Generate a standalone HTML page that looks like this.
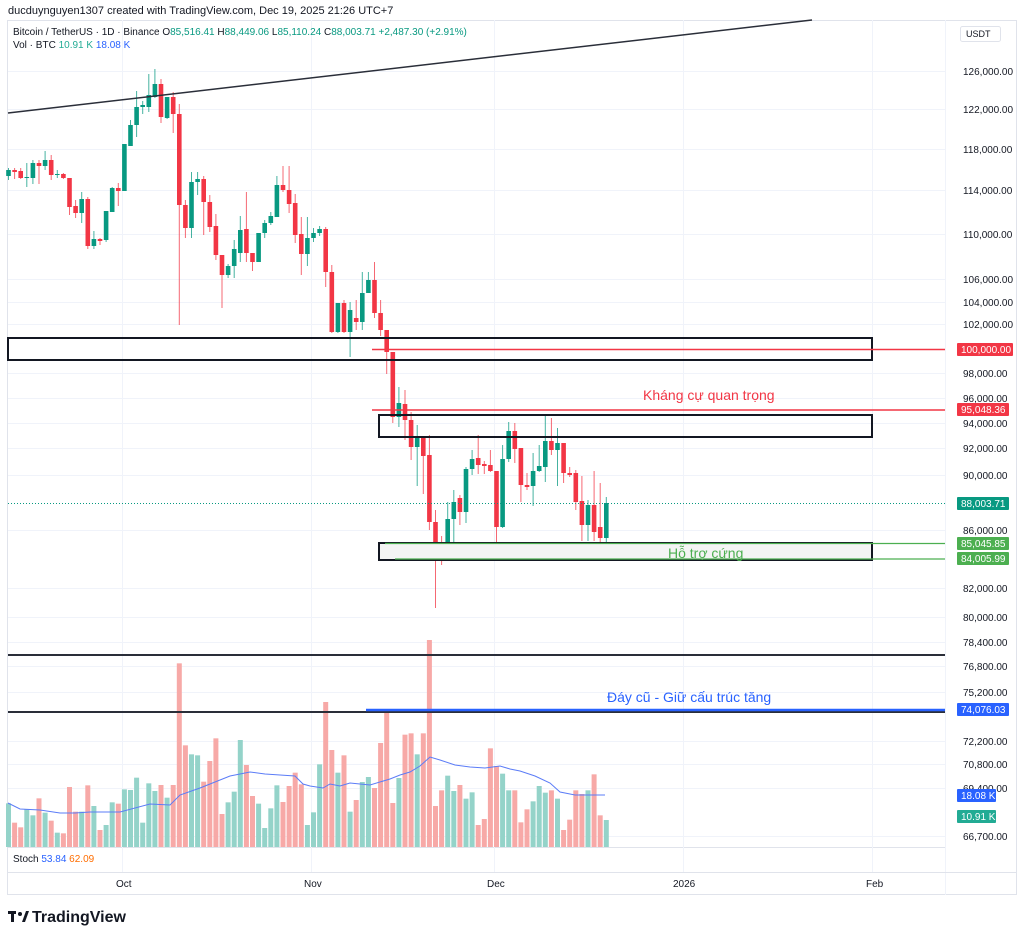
<!DOCTYPE html>
<html><head><meta charset="utf-8"><style>
body{margin:0;background:#fff;width:1024px;height:940px;overflow:hidden;font-family:"Liberation Sans","Noto Sans CJK SC",sans-serif;}
svg text{font-family:"Liberation Sans","Noto Sans CJK SC",sans-serif;}
</style></head><body>
<svg id="s" width="1024" height="940" xmlns="http://www.w3.org/2000/svg">
<rect width="1024" height="940" fill="#fff"/>
<text x="8" y="14" font-size="11" fill="#131722">ducduynguyen1307 created with TradingView.com, Dec 19, 2025 21:26 UTC+7</text>
<rect x="7.5" y="20.5" width="1009" height="874" fill="none" stroke="#e0e3eb"/>
<line x1="945.5" y1="20" x2="945.5" y2="895" stroke="#f0f3fa"/>
<line x1="7" y1="847.5" x2="945" y2="847.5" stroke="#e0e3eb"/>
<line x1="7" y1="872.5" x2="1016" y2="872.5" stroke="#e0e3eb"/>
<g id="grid" stroke="#f0f3fa" stroke-width="1"></g>
<g id="axis" font-size="10" fill="#131722"></g>
<text font-size="10" fill="#131722"><tspan x="116" y="887">Oct</tspan><tspan x="304" y="887">Nov</tspan><tspan x="487" y="887">Dec</tspan><tspan x="673" y="887">2026</tspan><tspan x="866" y="887">Feb</tspan></text>
<text x="13" y="35" font-size="10" fill="#131722">Bitcoin / TetherUS · 1D · Binance  O<tspan fill="#089981">85,516.41</tspan>  H<tspan fill="#089981">88,449.06</tspan>  L<tspan fill="#089981">85,110.24</tspan>  C<tspan fill="#089981">88,003.71</tspan>  <tspan fill="#089981">+2,487.30 (+2.91%)</tspan></text>
<text x="13" y="48" font-size="10" fill="#131722">Vol · BTC  <tspan fill="#22ab94">10.91 K</tspan>  <tspan fill="#2962ff">18.08 K</tspan></text>
<rect x="960.5" y="26.5" width="40" height="15" rx="2" fill="#fff" stroke="#e0e3eb"/>
<text x="966" y="37" font-size="9" fill="#131722">USDT</text>
<text x="13" y="862" font-size="10" fill="#131722">Stoch  <tspan fill="#2962ff">53.84</tspan>  <tspan fill="#ff6d00">62.09</tspan></text>
<g id="vol"></g>
<polyline fill="none" stroke="#5b7cf7" stroke-width="1" points="8,803 20,809 40,810 60,813 75,813 90,812 120,812 150,804 170,805 180,795 200,788 215,782 230,776 250,772 265,774 280,775 295,776 303,784 310,786 323,788 330,784 340,786 350,783 370,785 390,779 400,775 410,772 420,766 430,757 440,760 455,765 470,767 485,768 500,766 510,769 520,771 535,776 550,783 560,792 575,795 590,795 605,795"/>
<g id="cand"></g>
<line x1="8" y1="113" x2="812" y2="20" stroke="#2a2e39" stroke-width="1.5"/>
<rect x="8" y="338" width="864" height="22" fill="none" stroke="#131722" stroke-width="2"/>
<line x1="372" y1="349.5" x2="945" y2="349.5" stroke="#f23645" stroke-width="1.5"/>
<rect x="379" y="415" width="493" height="22" fill="none" stroke="#131722" stroke-width="2"/>
<line x1="372" y1="410" x2="945" y2="410" stroke="#f23645" stroke-width="1.5"/>
<text x="643" y="400" font-size="14" fill="#f23645">Kháng cự quan trọng</text>
<rect x="379" y="543" width="493" height="17" fill="#f4f4f4" stroke="#131722" stroke-width="2"/>
<line x1="385" y1="543.5" x2="945" y2="543.5" stroke="#4caf50" stroke-width="1.2"/>
<line x1="395" y1="559" x2="945" y2="559" stroke="#4caf50" stroke-width="1.2"/>
<text x="668" y="558" font-size="14" fill="#4caf50">Hỗ trợ cứng</text>
<line x1="8" y1="503.5" x2="945" y2="503.5" stroke="#089981" stroke-width="1" stroke-dasharray="1,2"/>
<line x1="8" y1="655" x2="945" y2="655" stroke="#2a2e39" stroke-width="2"/>
<line x1="8" y1="712" x2="945" y2="712" stroke="#2a2e39" stroke-width="2"/>
<line x1="366" y1="710" x2="945" y2="710" stroke="#2962ff" stroke-width="2.5"/>
<text x="607" y="702" font-size="14" fill="#2962ff">Đáy cũ - Giữ cấu trúc tăng</text>
<g font-size="10" fill="#fff">
<rect x="957" y="343" width="56" height="13" rx="1" fill="#f23645"/><text x="961" y="353">100,000.00</text>
<rect x="957" y="403" width="52" height="13" rx="1" fill="#f23645"/><text x="961" y="413">95,048.36</text>
<rect x="957" y="497" width="52" height="13" rx="1" fill="#089981"/><text x="961" y="507">88,003.71</text>
<rect x="957" y="537" width="52" height="13" rx="1" fill="#4caf50"/><text x="961" y="547">85,045.85</text>
<rect x="957" y="552" width="52" height="13" rx="1" fill="#4caf50"/><text x="961" y="562">84,005.99</text>
<rect x="957" y="703" width="52" height="13" rx="1" fill="#2962ff"/><text x="961" y="713">74,076.03</text>
<rect x="957" y="789" width="39" height="13" rx="1" fill="#2962ff"/><text x="961" y="799">18.08 K</text>
<rect x="957" y="810" width="39" height="13" rx="1" fill="#22ab94"/><text x="961" y="820">10.91 K</text>
</g>
<g transform="translate(8,908)"><rect x="0" y="3" width="8" height="3" fill="#131722"/><rect x="3" y="3" width="3" height="11" fill="#131722"/><circle cx="12" cy="6" r="2" fill="#131722"/><polygon points="14,14 18,3 21,3 17,14" fill="#131722"/></g>
<text x="32" y="922" font-size="16" font-weight="bold" fill="#131722">TradingView</text>
</svg>
<script>
var NS="http://www.w3.org/2000/svg";
function el(p,t,a){var e=document.createElementNS(NS,t);for(var k in a)e.setAttribute(k,a[k]);document.getElementById(p).appendChild(e);return e;}
var ticks=[[126000,71],[122000,109],[118000,149],[114000,190],[110000,234],[106000,279],[104000,302],[102000,324],[98000,373],[96000,398],[94000,423],[92000,448],[90000,475],[86000,530],[82000,588],[80000,617],[78400,642],[76800,666],[75200,692],[72200,741],[70800,764],[69400,788],[66700,836]];
ticks.forEach(function(t){el("grid","line",{x1:8,x2:945,y1:t[1]+.5,y2:t[1]+.5});
var s=t[0].toLocaleString("en-US")+".00";var tx=el("axis","text",{x:963,y:t[1]+4});tx.textContent=s;});
[122,311,494,683,872].forEach(function(x){el("grid","line",{x1:x+.5,x2:x+.5,y1:20,y2:872});});
var C="g 170 176 168 180|r 170 172 168 179|r 171 178 168 179|g 177 178 163 187|g 163 178 160 184|r 163 166 160 184|g 160 166 151 170|r 160 175 155 180|g 174 175 170 178|r 174 178 173 179|r 178 207 178 215|r 206 213 200 218|g 199 213 192 223|r 199 246 197 249|g 239 246 231 249|r 239 241 238 245|g 211 240 211 242|g 188 212 187 212|r 188 191 183 206|g 144 191 144 191|g 125 146 120 146|g 107 125 91 137|g 105 107 101 114|g 95 107 74 112|g 84 97 69 98|r 84 117 79 123|g 97 118 97 119|r 97 114 92 133|r 114 205 104 325|r 205 228 200 238|g 182 228 172 238|g 179 182 172 195|r 179 202 176 235|r 202 227 195 232|r 226 255 214 260|r 255 275 255 308|g 266 275 264 278|g 249 266 240 278|g 230 253 216 262|r 229 253 192 262|r 253 262 253 271|g 233 262 233 262|g 223 233 220 238|g 216 223 212 225|g 185 217 176 217|r 185 190 166 192|r 190 204 166 213|r 203 235 194 243|r 234 254 217 275|g 238 254 217 266|g 233 238 228 242|g 229 233 226 236|r 229 272 227 287|r 272 332 265 333|g 303 332 303 333|r 303 332 300 333|g 310 332 302 357|r 318 322 300 330|g 293 322 272 330|g 280 293 272 293|r 280 313 262 318|r 313 330 300 336|r 330 352 330 374|r 352 417 352 423|g 403 417 387 427|r 404 420 390 440|r 420 447 412 460|g 437 447 425 486|r 437 456 437 494|r 455 522 435 530|r 522 543 510 608|r 543 549 536 565|g 519 549 502 550|g 502 519 490 543|r 498 512 495 525|g 469 512 467 523|g 459 469 450 475|r 458 465 435 474|r 464 466 461 474|r 465 471 450 472|r 471 527 471 560|g 459 527 445 528|g 431 459 422 462|r 431 449 423 463|r 448 485 448 502|r 485 487 473 490|g 471 486 453 506|g 466 471 445 472|g 441 467 416 482|r 441 450 418 455|g 443 450 428 486|r 443 473 443 483|r 473 475 467 477|r 473 502 470 510|r 501 525 476 541|g 505 525 500 541|r 505 532 471 541|r 527 538 483 552|g 503 538 497 545".split("|");
var V=[520,578,592,537,556,505,548,572,608,610,471,545,545,466,528,600,585,517,521,478,480,443,578,460,483,465,503,465,100,346,373,376,455,393,325,552,517,485,330,405,498,521,594,535,466,516,468,428,463,585,547,403,216,360,428,376,545,510,456,441,474,339,247,519,444,314,310,373,310,30,528,481,437,483,465,506,487,585,567,355,408,431,481,481,577,538,514,468,488,481,506,600,569,481,492,481,433,556];
C.forEach(function(s,i){var p=s.split(" ");var x=8.5+6.1*i;var g=p[0]=="g";var col=g?"#089981":"#f23645";
var vt=V[i]!==undefined?V[i]/3+630:820;
el("vol","rect",{x:x-2.5,y:vt,width:5,height:847-vt,fill:g?"#94d3c9":"#f7a9a7"});
el("cand","line",{x1:x,x2:x,y1:+p[3],y2:+p[4],stroke:col,"stroke-width":1,opacity:.75});
el("cand","rect",{x:x-2.3,y:+p[1],width:4.6,height:Math.max(1,p[2]-p[1]),fill:col});});
</script>
</body></html>
